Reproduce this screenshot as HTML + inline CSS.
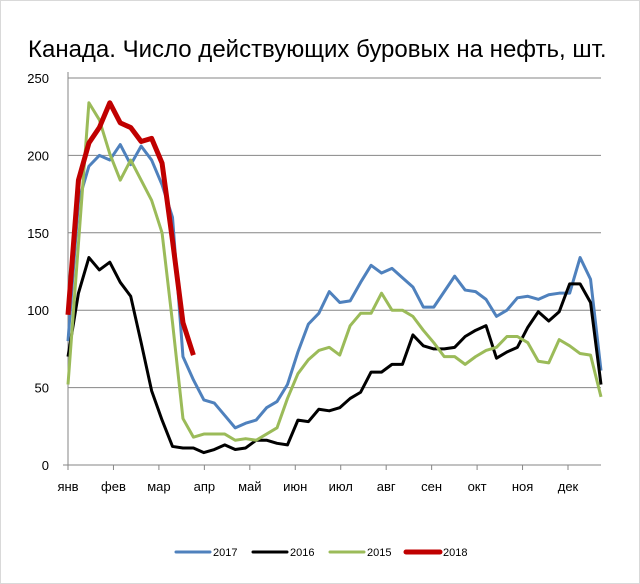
<!DOCTYPE html>
<html><head><meta charset="utf-8"><style>
body{margin:0;background:#fff;}
svg{display:block;font-family:"Liberation Sans","DejaVu Sans",sans-serif;}
</style></head><body>
<svg id="chart" width="640" height="584" viewBox="0 0 640 584">
<rect x="0.5" y="0.5" width="639" height="583" fill="#fff" stroke="#d9d9d9"/>
<text x="28" y="57" font-size="24" fill="#000">Канада. Число действующих буровых на нефть, шт.</text>
<g id="grid"></g><g id="axes"></g><g id="series"></g><g id="legend"></g>
</svg>
<script>
const yTicks=[0,50,100,150,200,250];
const months=["янв","фев","мар","апр","май","июн","июл","авг","сен","окт","ноя","дек"];
const seriesNames=["2017","2016","2015","2018"];
const s2017=[80,170,193,200,197,207,194,206,197,181,160,70,55,42,40,32,24,27,29,37,41,52,73,91,98,112,105,106,118,129,124,127,121,115,102,102,112,122,113,112,107,96,100,108,109,107,110,111,111,134,120,61];
const s2016=[70,111,134,126,131,118,109,79,48,29,12,11,11,8,10,13,10,11,16,16,14,13,29,28,36,35,37,43,47,60,60,65,65,84,77,75,75,76,83,87,90,69,73,76,89,99,93,99,117,117,105,52];
const s2015=[52,143,234,223,201,184,197,184,171,150,92,30,18,20,20,20,16,17,16,20,24,43,59,68,74,76,71,90,98,98,111,100,100,96,87,79,70,70,65,70,74,76,83,83,79,67,66,81,77,72,71,44];
const s2018=[97,184,208,218,234,221,218,209,211,195,145,92,71];
const colors=["#4f81bd","#000000","#9bbb59","#c00000"];
const widths=[3,3,3,5];
const NS="http://www.w3.org/2000/svg";
const X0=68,X1=601,Y0=465,Y1=78;
const weekX=i=>X0+i*(X1-X0)/51;
const yS=v=>Y0-v*(Y0-Y1)/250;
const monthX=m=>X0+m*(568-X0)/11;
function mk(tag,attrs,parent){const e=document.createElementNS(NS,tag);for(const k in attrs)e.setAttribute(k,attrs[k]);parent.appendChild(e);return e;}
const grid=document.getElementById('grid'),axes=document.getElementById('axes'),ser=document.getElementById('series'),leg=document.getElementById('legend');
yTicks.forEach(t=>{
 if(t>0){const l=mk('line',{x1:X0,x2:X1,y1:yS(t),y2:yS(t),stroke:'#868686','stroke-width':1},grid);
 
 }
 const tx=mk('text',{x:49,y:yS(t)+5,'text-anchor':'end','font-size':13,fill:'#000'},axes);tx.textContent=t;
 
 
});
const ax=mk('line',{x1:X0,x2:X0,y1:Y1-6,y2:Y0,stroke:'#868686'},axes);


const bx=mk('line',{x1:X0-5,x2:X1,y1:Y0,y2:Y0,stroke:'#868686'},axes);


months.forEach((m,i)=>{
 const x=monthX(i);
 const tk=mk('line',{x1:x,x2:x,y1:Y0,y2:Y0+5,stroke:'#868686'},axes);
 
 
 const tx=mk('text',{x:x,y:Y0+26,'text-anchor':'middle','font-size':13,fill:'#000'},axes);tx.textContent=m;
 
 
});
[s2017,s2016,s2015,s2018].forEach((d,k)=>{
 const p=mk('polyline',{points:d.map((v,i)=>weekX(i)+','+yS(v)).join(' '),fill:'none',stroke:colors[k],'stroke-width':widths[k],'stroke-linejoin':'round'},ser);
 
 
});
const lx=[176,253,330,406];
seriesNames.forEach((n,k)=>{
 const g=mk('g',{},leg);
 
 
 mk('line',{x1:lx[k],x2:lx[k]+34,y1:552,y2:552,stroke:colors[k],'stroke-width':widths[k],'stroke-linecap':'round'},g);
 const t=mk('text',{x:lx[k]+37,y:556,'font-size':11,fill:'#000'},g);t.textContent=n;
});
</script>
</body></html>
